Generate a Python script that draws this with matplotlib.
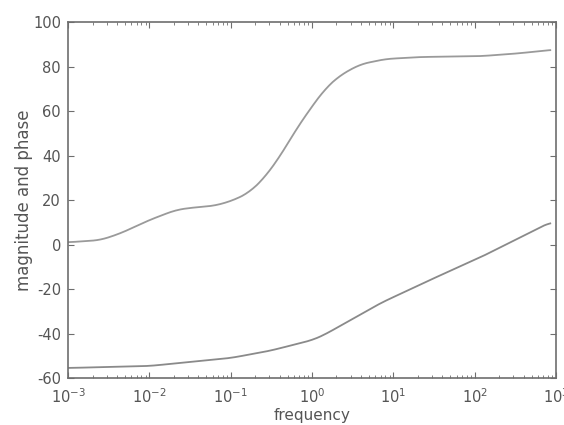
import numpy as np
import matplotlib.pyplot as plt
from matplotlib.ticker import LogLocator, NullFormatter

plt.rcParams['axes.unicode_minus'] = False

# values
freq_upper = [1e-3, 2.5e-3, 4.4e-3, 1e-2, 2.1e-2, 3.2e-2, 6.5e-2, 1.1e-1, 1.7e-1,
              2.6e-1, 4.1e-1, 6.2e-1, 9.5e-1, 1.45, 2.2, 3.9, 8.0, 21.0, 120.0, 360.0, 850.0]
phase_upper = [1.0, 2.0, 5.0, 11.0, 15.5, 16.5, 17.5, 20.0, 23.5,
               30.0, 40.0, 51.0, 61.0, 70.0, 76.0, 81.0, 83.4, 84.3, 84.7, 86.0, 87.5]

freq_lower = [1e-3, 1e-2, 1e-1, 3e-1, 1.0, 1.4, 7.0, 28.0, 120.0, 850.0]
mag_lower = [-55.5, -54.6, -51.0, -47.8, -43.0, -40.7, -26.3, -16.0, -5.6, 10.0]

xticks = [1e-3, 1e-2, 1e-1, 1e0, 1e1, 1e2, 1e3]
xticklabels = ['$10^{-3}$', '$10^{-2}$', '$10^{-1}$', '$10^{0}$', '$10^{1}$', '$10^{2}$', '$10^{3}$']
yticks = [-60, -40, -20, 0, 20, 40, 60, 80, 100]

line_col = '#9a9a9a'
axis_col = '#6e6e6e'
text_col = '#555555'

fig = plt.figure(figsize=(5.64, 4.25), dpi=100)
ax = fig.add_axes([0.1206, 0.1106, 0.8652, 0.8374])

# smooth the hand-read points a little in log space
def smooth(fx, fy):
    lx = np.log10(fx)
    xs = np.linspace(lx[0], lx[-1], 400)
    ys = np.interp(xs, lx, fy)
    k = np.ones(15) / 15
    ys_s = np.convolve(np.pad(ys, 7, mode='edge'), k, mode='valid')
    return 10 ** xs, ys_s

ux, uy = smooth(freq_upper, phase_upper)
lx, ly = smooth(freq_lower, mag_lower)
ax.plot(ux, uy, color=line_col, lw=1.3)
ax.plot(lx, ly, color='#8a8a8a', lw=1.3)

ax.set_xscale('log')
ax.set_xlim(1e-3, 1e3)
ax.set_ylim(-60, 100)
ax.set_xticks(xticks)
ax.set_xticklabels(xticklabels)
ax.xaxis.set_minor_locator(LogLocator(base=10, subs=np.arange(2, 10), numticks=20))
ax.xaxis.set_minor_formatter(NullFormatter())
ax.set_yticks(yticks)

for s in ax.spines.values():
    s.set_color(axis_col)
    s.set_linewidth(1.2)

ax.tick_params(which='both', direction='in', top=True, right=True,
               colors=axis_col, labelcolor=text_col, labelsize=10.5)
ax.tick_params(which='major', length=4)
ax.tick_params(which='minor', length=2)
ax.tick_params(axis='x', which='major', pad=7)
ax.tick_params(axis='y', which='major', pad=5)

ax.set_xlabel('frequency', fontsize=11, color=text_col, labelpad=1)
ax.set_ylabel('magnitude and phase', fontsize=12, color=text_col, labelpad=0)

fig.savefig('out.png', dpi=100)
